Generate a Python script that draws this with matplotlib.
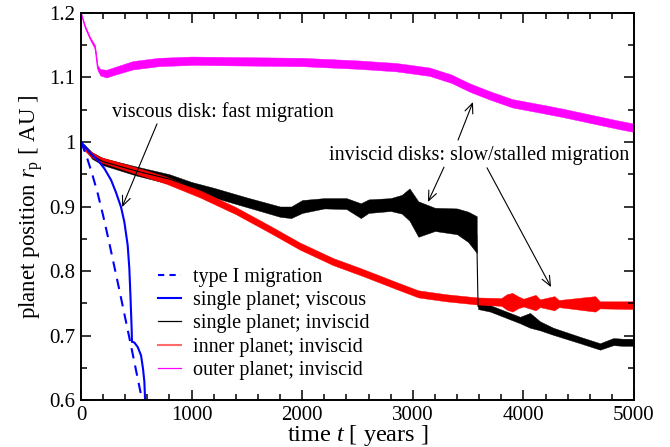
import numpy as np
import matplotlib
matplotlib.use("Agg")
import matplotlib.pyplot as plt
from matplotlib.lines import Line2D
from matplotlib.ticker import MultipleLocator, FuncFormatter

# ---------------- data ----------------
# type I migration (dashed blue)
t_typeI = [0, 50, 100, 150, 200, 250, 300, 350, 400, 450, 500, 550, 575]
r_typeI = [1.0, 0.978, 0.951, 0.921, 0.886, 0.848, 0.808, 0.768, 0.727, 0.686, 0.644, 0.602, 0.58]

# single planet; viscous (solid blue)
t_visc = [0, 90, 151, 211, 272, 316, 362, 392, 422, 437, 447, 458, 461, 468, 483, 513, 543, 561, 573, 579, 585]
r_visc = [1.0, 0.982, 0.972, 0.959, 0.941, 0.922, 0.899, 0.876, 0.840, 0.804, 0.762, 0.710, 0.690,
          0.690, 0.689, 0.682, 0.669, 0.648, 0.628, 0.602, 0.58]

# single planet; inviscid (black) : lower / upper envelope of the noisy curve
t_single = [0, 30, 100, 200, 500, 800, 1000, 1200, 1500, 1800, 1900, 2000, 2200, 2400, 2530,
            2600, 2800, 2900, 2970, 3050, 3200, 3400, 3500, 3578, 3590, 3700, 3969, 4060,
            4150, 4270, 4512, 4693, 4813, 4900, 5000]
lo_single = [1.0, 0.990, 0.974, 0.964, 0.948, 0.935, 0.923, 0.914, 0.899, 0.884, 0.882, 0.890,
             0.897, 0.896, 0.882, 0.890, 0.893, 0.889, 0.878, 0.853, 0.862, 0.857, 0.845, 0.828,
             0.741, 0.737, 0.719, 0.712, 0.708, 0.701, 0.688, 0.678, 0.685, 0.684, 0.684]
hi_single = [1.0, 0.996, 0.984, 0.975, 0.962, 0.950, 0.938, 0.929, 0.914, 0.900, 0.900, 0.910,
             0.913, 0.913, 0.905, 0.911, 0.913, 0.918, 0.928, 0.908, 0.898, 0.897, 0.892, 0.885,
             0.749, 0.747, 0.729, 0.735, 0.722, 0.712, 0.698, 0.688, 0.696, 0.695, 0.695]

# inner planet; inviscid (red)
t_inner = [0, 30, 90, 172, 472, 775, 1076, 1400, 1700, 1980, 2280, 2550, 2850, 3050, 3300, 3584,
           3800, 3850, 3900, 3950, 4000, 4110, 4150, 4280, 4320, 4650, 4690, 5000]
lo_inner = [1.0, 0.987, 0.977, 0.969, 0.952, 0.935, 0.914, 0.888, 0.860, 0.833, 0.809, 0.792,
            0.772, 0.759, 0.753, 0.748, 0.746, 0.740, 0.737, 0.742, 0.745, 0.739, 0.744, 0.739,
            0.744, 0.737, 0.742, 0.741]
hi_inner = [1.0, 0.993, 0.985, 0.977, 0.962, 0.946, 0.925, 0.899, 0.871, 0.844, 0.820, 0.803,
            0.783, 0.770, 0.764, 0.759, 0.758, 0.764, 0.766, 0.761, 0.757, 0.763, 0.756, 0.761,
            0.755, 0.761, 0.753, 0.753]

# outer planet; inviscid (magenta)
t_outer = [0, 36, 81, 127, 150, 175, 230, 300, 470, 700, 1000, 1500, 2000, 2250, 2500, 2850,
           3150, 3350, 3520, 3700, 3900, 4150, 4360, 4660, 4850, 5000]
c_outer = [1.2, 1.179, 1.161, 1.147, 1.115, 1.108, 1.106, 1.110, 1.119, 1.124, 1.126, 1.125,
           1.124, 1.122, 1.120, 1.116, 1.109, 1.098, 1.084, 1.072, 1.060, 1.052, 1.045, 1.034,
           1.027, 1.022]
hw_outer = [0.001, 0.002, 0.002, 0.003, 0.004, 0.005, 0.006, 0.006, 0.0065, 0.0065, 0.0065, 0.0065,
            0.0065, 0.0065, 0.0065, 0.0065, 0.0065, 0.0065, 0.0065, 0.0065, 0.0065, 0.0065, 0.0065,
            0.0065, 0.0065, 0.0065]

labels = ["type I migration", "single planet; viscous", "single planet; inviscid",
          "inner planet; inviscid", "outer planet; inviscid"]

x_ticks = [0, 1000, 2000, 3000, 4000, 5000]
y_ticks = [0.6, 0.7, 0.8, 0.9, 1.0, 1.1, 1.2]

# ---------------- style ----------------
plt.rcParams['font.family'] = ['Liberation Serif', 'DejaVu Serif']
plt.rcParams['mathtext.fontset'] = 'custom'
plt.rcParams['mathtext.rm'] = 'Liberation Serif'
plt.rcParams['mathtext.it'] = 'Liberation Serif:italic'

fig = plt.figure(figsize=(6.7, 4.47), dpi=100)
ax = fig.add_axes([81/670, 47/447, 553/670, 387/447])

BLUE = '#0000ff'
RED = '#ff0000'
MAG = '#ff00ff'

# black (single planet inviscid)
ts = np.array(t_single); los = np.array(lo_single); his = np.array(hi_single)
ax.fill_between(ts, los, his, where=ts <= 3578, color='black', lw=0.3, interpolate=False)
ax.fill_between(ts, los, his, where=ts >= 3590, color='black', lw=0.3, interpolate=False)
ax.plot(ts, (los + his) / 2, color='black', lw=0.8)

# red (inner planet)
ti = np.array(t_inner); loi = np.array(lo_inner); hii = np.array(hi_inner)
ax.fill_between(ti, loi, hii, color=RED, lw=0.3)

# magenta (outer planet)
to = np.array(t_outer); co = np.array(c_outer); hwo = np.array(hw_outer)
ax.fill_between(to, co - hwo, co + hwo, color=MAG, lw=0.3)
ax.plot(to, co, color=MAG, lw=0.8)

# blue curves
ax.plot(t_typeI, r_typeI, color=BLUE, lw=1.5, dashes=(5, 3.5))
ax.plot(t_visc, r_visc, color=BLUE, lw=1.5)

# ---------------- axes ----------------
ax.set_xlim(0, 5000)
ax.set_ylim(0.6, 1.2)
ax.set_xticks(x_ticks)
ax.set_yticks(y_ticks)
ax.xaxis.set_minor_locator(MultipleLocator(200))
ax.yaxis.set_minor_locator(MultipleLocator(0.05))
ax.yaxis.set_major_formatter(FuncFormatter(lambda v, p: '%g' % round(v, 2)))
ax.tick_params(which='both', direction='in', top=True, right=True, labelsize=15, width=1.1)
ax.tick_params(which='major', length=7, pad=4)
ax.tick_params(which='minor', length=4)
for s in ax.spines.values():
    s.set_linewidth(1.4)

ax.set_xlabel(r'time $t$ [ years ]', fontsize=17.5, labelpad=-1)
ax.set_ylabel(r'planet position $r_{\rm p}$ [ AU ]', fontsize=16.5, labelpad=3)

# ---------------- annotations ----------------
ax.text(1284, 1.0388, 'viscous disk: fast migration', ha='center', va='baseline', fontsize=14.5)
ax.text(3599, 0.972, 'inviscid disks: slow/stalled migration', ha='center', va='baseline', fontsize=14.5)
aprops = dict(arrowstyle='->,head_length=0.7,head_width=0.3', color='black', lw=0.8,
              shrinkA=0, shrinkB=0)
ax.annotate('', xy=(371, 0.899), xytext=(687, 1.028), arrowprops=aprops)
ax.annotate('', xy=(3544, 1.062), xytext=(3409, 1.003), arrowprops=aprops)
ax.annotate('', xy=(3137, 0.907), xytext=(3282, 0.961), arrowprops=aprops)
ax.annotate('', xy=(4250, 0.775), xytext=(3671, 0.960), arrowprops=aprops)

# ---------------- legend ----------------
handles = [
    Line2D([], [], color=BLUE, lw=1.5, dashes=(3, 2.5)),
    Line2D([], [], color=BLUE, lw=1.5),
    Line2D([], [], color='black', lw=0.9),
    Line2D([], [], color='#ff6a6a', lw=1.5),
    Line2D([], [], color=MAG, lw=0.9),
]
ax.legend(handles, labels, loc='upper left', bbox_to_anchor=(0.139, 0.342), frameon=False,
          fontsize=14.5, handlelength=1.15, handletextpad=0.6, labelspacing=0.21,
          borderpad=0, borderaxespad=0)

fig.savefig('out.png', dpi=100)
